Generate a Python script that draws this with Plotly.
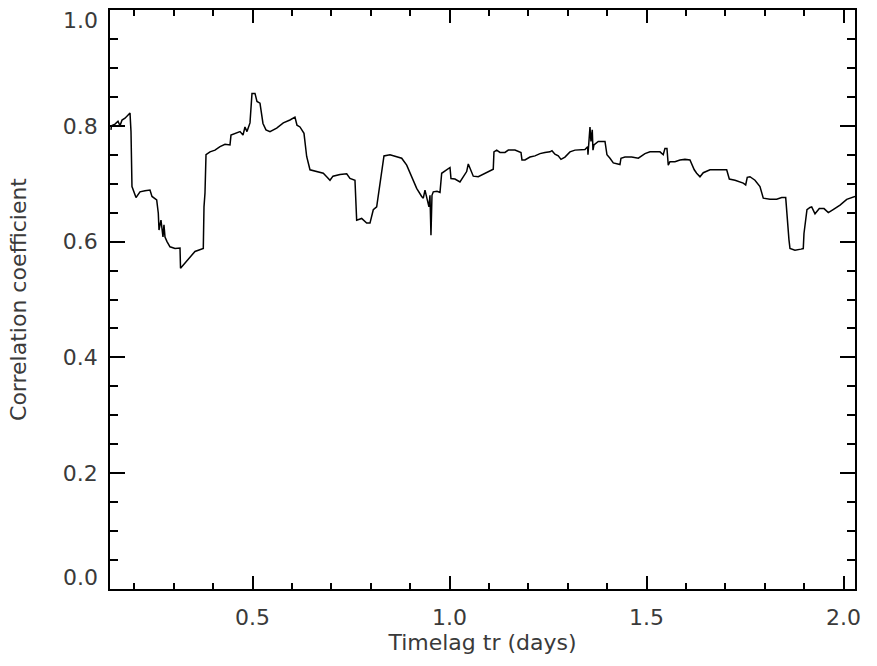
import plotly.graph_objects as go

# Time lag (days) and correlation coefficient
timelag = [
    0.1405, 0.1416, 0.1507, 0.1583, 0.1634, 0.1685, 0.1761, 0.1837, 0.1888, 0.1913,
    0.1938, 0.2040, 0.2141, 0.2268, 0.2395, 0.2446, 0.2565, 0.2606, 0.2624, 0.2674,
    0.2725, 0.2750, 0.2776, 0.2827, 0.2903, 0.3030, 0.3157, 0.3170, 0.3284, 0.3411,
    0.3537, 0.3748, 0.3766, 0.3791, 0.3817, 0.3918, 0.4045, 0.4172, 0.4299, 0.4426,
    0.4451, 0.4680, 0.4756, 0.4806, 0.4857, 0.4933, 0.4984, 0.5060, 0.5111, 0.5187,
    0.5263, 0.5339, 0.5441, 0.5611, 0.5779, 0.5948, 0.6075, 0.6126, 0.6202, 0.6304,
    0.6372, 0.6456, 0.6626, 0.6794, 0.6880, 0.6964, 0.7040, 0.7218, 0.7388, 0.7471,
    0.7598, 0.7641, 0.7768, 0.7895, 0.7979, 0.8063, 0.8149, 0.8215, 0.8276, 0.8334,
    0.8487, 0.8740, 0.8784, 0.8911, 0.9037, 0.9164, 0.9291, 0.9332, 0.9375, 0.9418,
    0.9476, 0.9502, 0.9527, 0.9553, 0.9586, 0.9680, 0.9756, 0.9799, 0.9883, 1.0010,
    1.0035, 1.0136, 1.0263, 1.0347, 1.0433, 1.0474, 1.0542, 1.0601, 1.0728, 1.0898,
    1.1025, 1.1108, 1.1126, 1.1195, 1.1279, 1.1406, 1.1490, 1.1660, 1.1812, 1.1837,
    1.1913, 1.2040, 1.2167, 1.2294, 1.2420, 1.2547, 1.2598, 1.2674, 1.2758, 1.2827,
    1.2928, 1.3055, 1.3182, 1.3309, 1.3436, 1.3504, 1.3512, 1.3563, 1.3588, 1.3621,
    1.3639, 1.3664, 1.3773, 1.3944, 1.3994, 1.4071, 1.4155, 1.4324, 1.4350, 1.4451,
    1.4621, 1.4790, 1.4959, 1.5086, 1.5213, 1.5340, 1.5423, 1.5466, 1.5517, 1.5550,
    1.5593, 1.5720, 1.5847, 1.5974, 1.6101, 1.6210, 1.6271, 1.6355, 1.6439, 1.6609,
    1.6820, 1.7033, 1.7100, 1.7245, 1.7453, 1.7515, 1.7555, 1.7624, 1.7751, 1.7878,
    1.7962, 1.8132, 1.8302, 1.8429, 1.8531, 1.8563, 1.8614, 1.8640, 1.8766, 1.8919,
    1.8977, 1.8995, 1.9046, 1.9071, 1.9148, 1.9191, 1.9275, 1.9384, 1.9504, 1.9613,
    1.9725, 1.9910, 2.0080, 2.0291,
]
correlation = [
    0.793, 0.800, 0.803, 0.808, 0.800, 0.810, 0.813, 0.818, 0.822, 0.790,
    0.695, 0.676, 0.686, 0.688, 0.689, 0.678, 0.672, 0.649, 0.620, 0.637,
    0.608, 0.629, 0.608, 0.600, 0.591, 0.588, 0.589, 0.554, 0.563, 0.574,
    0.583, 0.588, 0.660, 0.684, 0.750, 0.755, 0.758, 0.764, 0.768, 0.767,
    0.784, 0.790, 0.784, 0.798, 0.790, 0.805, 0.856, 0.856, 0.842, 0.839,
    0.804, 0.793, 0.790, 0.796, 0.805, 0.810, 0.815, 0.801, 0.798, 0.787,
    0.747, 0.724, 0.721, 0.718, 0.712, 0.706, 0.713, 0.716, 0.717, 0.709,
    0.706, 0.637, 0.640, 0.632, 0.632, 0.655, 0.660, 0.689, 0.718, 0.748,
    0.750, 0.746, 0.744, 0.732, 0.712, 0.692, 0.678, 0.675, 0.689, 0.678,
    0.660, 0.680, 0.611, 0.680, 0.686, 0.687, 0.685, 0.718, 0.722, 0.728,
    0.709, 0.708, 0.703, 0.712, 0.721, 0.734, 0.721, 0.713, 0.712, 0.718,
    0.722, 0.725, 0.755, 0.758, 0.754, 0.754, 0.758, 0.758, 0.754, 0.741,
    0.741, 0.746, 0.748, 0.752, 0.754, 0.755, 0.757, 0.751, 0.748, 0.742,
    0.746, 0.755, 0.758, 0.758, 0.759, 0.764, 0.750, 0.798, 0.773, 0.793,
    0.758, 0.767, 0.773, 0.773, 0.750, 0.744, 0.736, 0.733, 0.744, 0.746,
    0.746, 0.744, 0.752, 0.755, 0.755, 0.755, 0.750, 0.761, 0.761, 0.732,
    0.738, 0.738, 0.741, 0.742, 0.741, 0.724, 0.718, 0.712, 0.719, 0.724,
    0.724, 0.724, 0.708, 0.706, 0.701, 0.698, 0.711, 0.712, 0.706, 0.695,
    0.675, 0.673, 0.673, 0.676, 0.676, 0.643, 0.603, 0.588, 0.585, 0.587,
    0.588, 0.614, 0.637, 0.655, 0.659, 0.660, 0.648, 0.657, 0.657, 0.650,
    0.655, 0.663, 0.673, 0.678,
]

x_range = [0.138, 2.029]
y_range = [0.0, 1.0]
y_tick_values = [0.0, 0.2, 0.4, 0.6, 0.8, 1.0]
y_tick_labels = ["0.0", "0.2", "0.4", "0.6", "0.8", "1.0"]

font_family = "DejaVu Sans"
text_color = "#3a3a3a"
tick_font = dict(family=font_family, size=22, color=text_color)

fig = go.Figure(
    go.Scatter(
        x=timelag,
        y=correlation,
        mode="lines",
        line=dict(color="black", width=1.5),
        hoverinfo="skip",
    )
)

axis_common = dict(
    showgrid=False,
    zeroline=False,
    showline=True,
    linecolor="black",
    linewidth=1.5,
    mirror="ticks",
    ticks="inside",
    tickcolor="black",
    tickwidth=1.5,
    automargin=False,
    tickfont=tick_font,
    title_font=dict(family=font_family, size=22, color=text_color),
)

# End labels of the y axis are kept inside the frame (top-aligned at 1.0,
# bottom-aligned at 0.0); the inner ones sit on the axis itself.
inner_text = [t if 0 < v < 1 else "" for v, t in zip(y_tick_values, y_tick_labels)]
end_labels = []
for v, t in zip(y_tick_values, y_tick_labels):
    if v == max(y_range):
        end_labels.append(dict(y=v, text=t, yanchor="top", yshift=4))
    elif v == min(y_range):
        end_labels.append(dict(y=v, text=t, yanchor="bottom", yshift=-3))

fig.update_layout(
    width=877,
    height=666,
    margin=dict(l=110, r=22, t=10, b=77),
    paper_bgcolor="white",
    plot_bgcolor="white",
    showlegend=False,
    xaxis=dict(
        range=x_range,
        tick0=0,
        dtick=0.5,
        tickformat=".1f",
        ticklen=13,
        ticklabelstandoff=8,
        minor=dict(dtick=0.1, tick0=0, ticks="inside", ticklen=6,
                   tickcolor="black", tickwidth=1.5, showgrid=False),
        title=dict(text="Timelag tr (days)", standoff=1),
        **axis_common,
    ),
    yaxis=dict(
        range=y_range,
        tickmode="array",
        tickvals=y_tick_values,
        ticktext=inner_text,
        ticklen=15,
        ticklabelstandoff=6,
        minor=dict(dtick=0.05, tick0=0, ticks="inside", ticklen=8,
                   tickcolor="black", tickwidth=1.5, showgrid=False),
        title=dict(text="Correlation coefficient", standoff=30),
        **axis_common,
    ),
    annotations=[
        dict(
            xref="paper", yref="y", x=0, y=lab["y"], text=lab["text"],
            xanchor="right", yanchor=lab["yanchor"], xshift=-10,
            yshift=lab["yshift"], showarrow=False, font=tick_font,
        )
        for lab in end_labels
    ],
)

fig.write_html("out.html")
